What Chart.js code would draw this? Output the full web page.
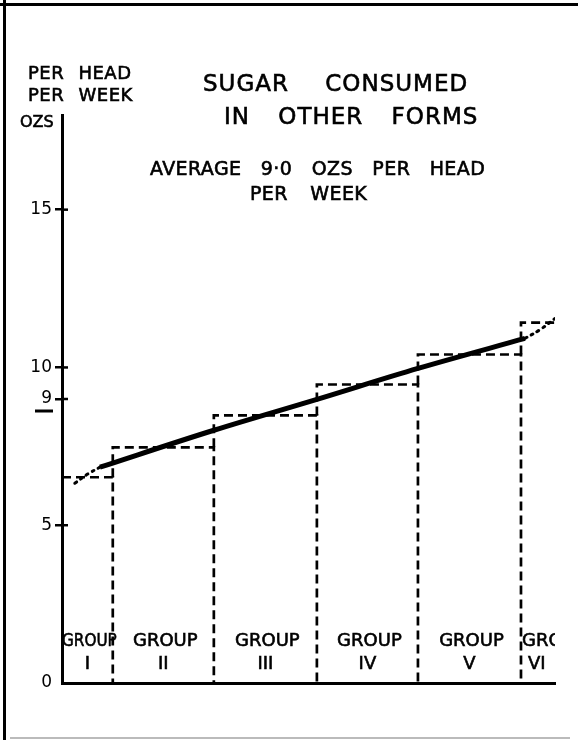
<!DOCTYPE html>
<html lang="en">
<head>
    <meta charset="UTF-8">
    <title>Sugar consumed in other forms</title>
    <script src="https://cdn.jsdelivr.net/npm/chart.js@4.4.1/dist/chart.umd.min.js"></script>
    <style>
        body { margin: 0; background: #fff; }
        .page { position: relative; width: 578px; height: 740px; overflow: hidden; font-family: "DejaVu Sans", sans-serif; color: #000; }
        .frame-top { position: absolute; left: 0; top: 3px; width: 578px; height: 3px; background: #000; }
        .frame-left { position: absolute; left: 3px; top: 0; width: 3px; height: 740px; background: #000; }
        .frame-bottom { position: absolute; left: 10px; top: 737px; width: 560px; height: 2px; background: #bbb; }
        .txt { position: absolute; white-space: pre; line-height: 1; -webkit-text-stroke: 0.6px #000; }
        canvas { position: absolute; left: 0; top: 0; }
    </style>
</head>
<body>
<div class="page">
    <canvas id="chart" width="578" height="740"></canvas>
    <div class="frame-top"></div>
    <div class="frame-left"></div>
    <div class="frame-bottom"></div>

    <div class="txt" style="left:203px; top:72px; font-size:23px; letter-spacing:1px; word-spacing:28px">SUGAR CONSUMED</div>
    <div class="txt" style="left:224px; top:105px; font-size:23px; letter-spacing:1px; word-spacing:20px">IN OTHER FORMS</div>
    <div class="txt" style="left:150px; top:159px; font-size:19px; letter-spacing:0.4px; word-spacing:13px">AVERAGE 9·0 OZS PER HEAD</div>
    <div class="txt" style="left:250px; top:184px; font-size:19px; letter-spacing:0.4px; word-spacing:16px">PER WEEK</div>

    <div class="txt" style="left:28px; top:64px; font-size:18px; letter-spacing:0.5px; word-spacing:8px">PER HEAD</div>
    <div class="txt" style="left:28px; top:86px; font-size:18px; letter-spacing:0.5px; word-spacing:8px">PER WEEK</div>
    <div class="txt" style="left:20px; top:114px; font-size:16px">OZS</div>
</div>
<script>
// income groups, cumulative share of population (%) at the group edges
const groupNames = ['I', 'II', 'III', 'IV', 'V', 'VI']
const groupEdges = [0, 10.3, 30.8, 51.7, 72.2, 93.1, 100]
// ozs per head per week
const groupValues = [6.52, 7.47, 8.48, 9.46, 10.41, 11.42]

// smoothed curve
const trendX = [7.7, 30.8, 51.7, 72.2, 93.9]
const trendY = [6.84, 8.01, 8.99, 9.97, 10.92]
const dotLeftX = [2.6, 5.2, 7.7]
const dotLeftY = [6.33, 6.62, 6.84]
const dotRightX = [93.9, 97, 100]
const dotRightY = [10.92, 11.2, 11.55]

const yTicks = [0, 5, 9, 10, 15]

const pts = (xs, ys) => xs.map((x, i) => ({x: x, y: ys[i]}))

// each group: step up on the left, top, then down on the right
const barSets = groupValues.map((v, i) => {
    const prev = i ? groupValues[i - 1] : v
    const path = [
        {x: groupEdges[i], y: prev},
        {x: groupEdges[i], y: v},
        {x: groupEdges[i + 1], y: v}
    ]
    if (i < groupValues.length - 1) path.push({x: groupEdges[i + 1], y: 0})
    return {
        data: path,
        borderColor: '#000',
        borderWidth: 2.7,
        borderDash: [9, 5],
        pointRadius: 0,
        tension: 0,
        order: 2
    }
})

const groupLabels = {
    id: 'groupLabels',
    afterDatasetsDraw(chart) {
        const {ctx, chartArea, scales: {x, y}} = chart
        ctx.save()
        ctx.fillStyle = '#000'
        ctx.strokeStyle = '#000'
        ctx.lineWidth = 0.6
        ctx.textBaseline = 'middle'
        ctx.font = '18px "DejaVu Sans"'
        const put = (t, px, py, w) => {
            ctx.fillText(t, px, py, w)
            ctx.strokeText(t, px, py, w)
        }
        groupNames.forEach((name, i) => {
            const l = x.getPixelForValue(groupEdges[i])
            const r = x.getPixelForValue(groupEdges[i + 1])
            const ty = y.getPixelForValue(1.33)
            const ny = y.getPixelForValue(0.6)
            if (i === groupNames.length - 1) {
                ctx.save()
                ctx.beginPath()
                ctx.rect(l, chartArea.top, chartArea.right - l, chartArea.bottom - chartArea.top)
                ctx.clip()
                ctx.textAlign = 'left'
                put('GROUP', l + 1, ty)
                put(name, l + 7, ny)
                ctx.restore()
            } else {
                ctx.textAlign = 'center'
                const c = (l + r) / 2
                put('GROUP', c + 2, ty, r - l + 4)
                put(name, c, ny)
            }
        })
        // tick marks cross the axis, and the 9 is underlined
        ctx.lineWidth = 2.5
        yTicks.forEach(v => {
            if (!v) return
            const py = y.getPixelForValue(v)
            ctx.beginPath()
            ctx.moveTo(chartArea.left, py)
            ctx.lineTo(chartArea.left + 6, py)
            ctx.stroke()
        })
        const p9 = y.getPixelForValue(9)
        ctx.lineWidth = 3
        ctx.beginPath()
        ctx.moveTo(35, p9 + 12)
        ctx.lineTo(53, p9 + 12)
        ctx.stroke()
        ctx.restore()
    }
}

const ctx = document.getElementById('chart').getContext('2d')
const myChart = new Chart(ctx, {
    type: 'line',
    data: {
        datasets: [
            {
                data: pts(trendX, trendY),
                borderColor: '#000',
                borderWidth: 5,
                pointRadius: 0,
                tension: 0.4,
                cubicInterpolationMode: 'monotone',
                order: 0
            },
            {
                data: pts(dotLeftX, dotLeftY),
                borderColor: '#000',
                borderWidth: 3,
                borderDash: [2, 5],
                borderCapStyle: 'round',
                pointRadius: 0,
                tension: 0.4,
                order: 0
            },
            {
                data: pts(dotRightX, dotRightY),
                borderColor: '#000',
                borderWidth: 3,
                borderDash: [2, 5],
                borderCapStyle: 'round',
                pointRadius: 0,
                tension: 0.4,
                order: 0
            },
            ...barSets
        ]
    },
    options: {
        responsive: false,
        animation: false,
        layout: { padding: { top: 115, right: 23, left: 0, bottom: 0 } },
        plugins: { legend: { display: false }, tooltip: { enabled: false }, title: { display: false } },
        scales: {
            x: {
                type: 'linear',
                min: 0,
                max: 100,
                grid: { display: false },
                ticks: { display: false },
                border: { display: true, color: '#000', width: 3 },
                afterFit: s => { s.height = 57 }
            },
            y: {
                min: 0,
                max: 18,
                afterBuildTicks: axis => { axis.ticks = yTicks.map(v => ({value: v})) },
                ticks: {
                    color: '#000',
                    padding: 3,
                    font: { family: 'DejaVu Sans', size: 17 },
                    callback: v => String(v)
                },
                grid: {
                    drawOnChartArea: false,
                    drawTicks: true,
                    tickLength: 7,
                    lineWidth: 2.5,
                    color: c => (c.tick && c.tick.value === 0) ? 'rgba(0,0,0,0)' : '#000'
                },
                border: { display: true, color: '#000', width: 3 },
                afterFit: s => { s.width = 62 }
            }
        }
    },
    plugins: [groupLabels]
})
</script>
</body>
</html>
